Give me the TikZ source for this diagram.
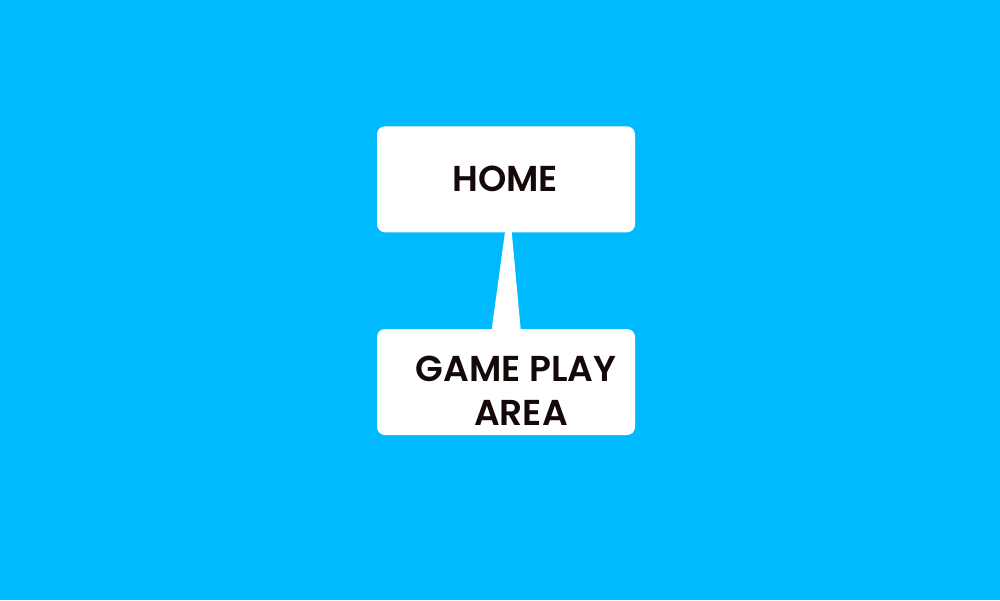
\documentclass[tikz,border=0pt]{standalone}
\usepackage{fontspec}
\setmainfont{Poppins}[UprightFont=* SemiBold, BoldFont=* Bold]
\definecolor{bg}{RGB}{0,186,255}
\definecolor{ink}{RGB}{20,8,8}
\begin{document}
\begin{tikzpicture}[x=1pt,y=-1pt,
  box/.style={fill=white,draw=none,rounded corners=8pt,minimum width=258pt,minimum height=106pt,inner sep=0pt},
  lbl/.style={text=ink,font=\fontsize{36}{42}\selectfont,inner sep=0pt,anchor=base}]
\fill[bg] (0,0) rectangle (1000,600);
\useasboundingbox (0,0) rectangle (1000,600);
\node[box] (home) at (506,179.3) {};
\node[box] (game) at (506,382) {};
\coordinate (tl) at (505,232);
\coordinate (tr) at (511.7,232);
\coordinate (bl) at (491.7,329.5);
\coordinate (br) at (520.7,329.5);
\fill[white] (tl) -- (tr) -- (br) -- (bl) -- cycle;
\node[lbl] (hometxt) at (505,191.7) {HOME};
\node[lbl] (gametxt) at (516,381.7) {GAME PLAY};
\node[lbl] (areatxt) at (521,425) {AREA};
\end{tikzpicture}
\end{document}
